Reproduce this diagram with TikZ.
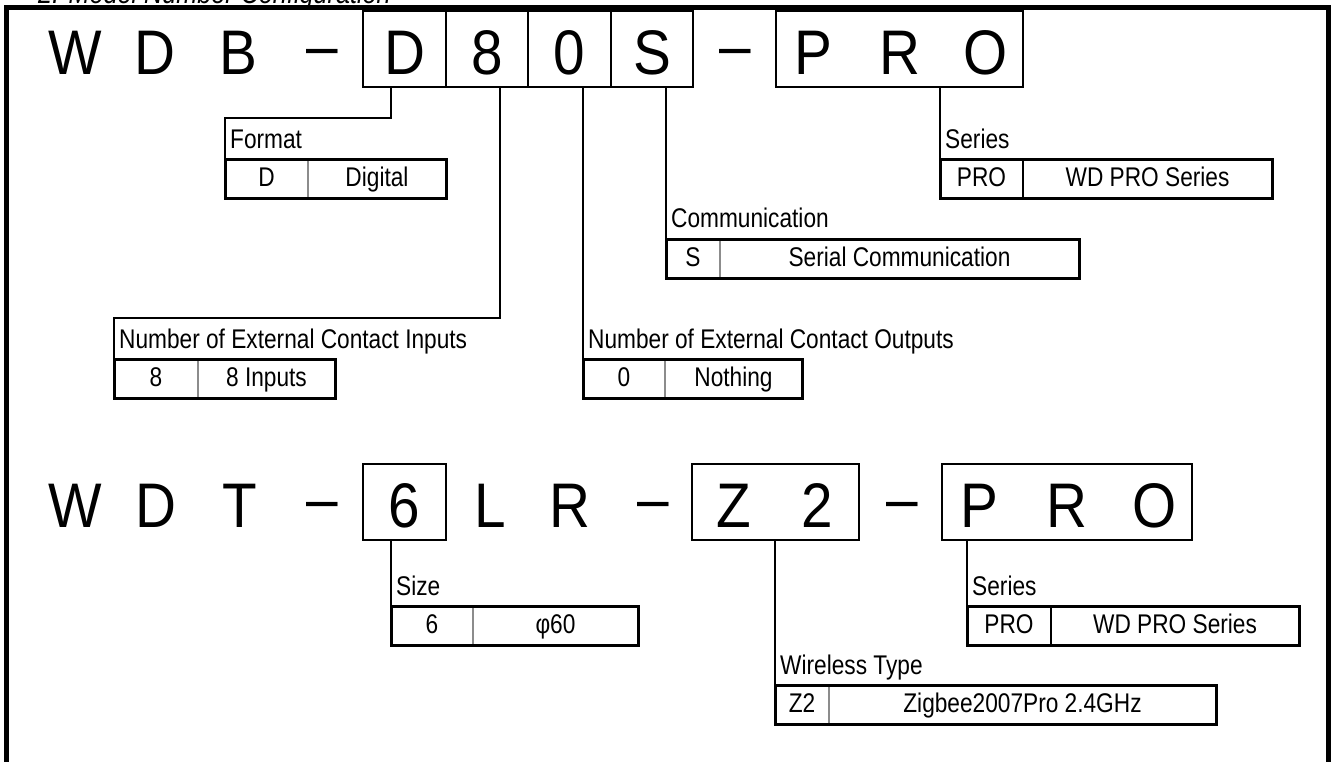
\documentclass[tikz,border=0pt]{standalone}
\usepackage{fontspec}
\setmainfont{Liberation Sans}
\newfontfamily\modelfont[FakeStretch=0.9]{Liberation Sans}
\newfontfamily\tagfont[FakeStretch=0.84]{Liberation Sans}
\usetikzlibrary{positioning}

\begin{document}
\begin{tikzpicture}[
		x=1pt, y=-1pt,
		glyph/.style={font=\modelfont\fontsize{63}{63}\selectfont, inner sep=0pt, outer sep=0pt, text height=64pt, text depth=12pt},
		digitbox/.style={glyph, draw, line width=2pt, minimum width=82.5pt},
		outerframe/.style={line width=5pt},
		wire/.style={line width=2.5pt},
		heading/.style={font=\tagfont\fontsize{27}{27}\selectfont, inner sep=0pt, anchor=base west},
		cell/.style={font=\tagfont\fontsize{27}{27}\selectfont, inner sep=0pt, outer sep=0pt, minimum height=39pt, text height=19pt, text depth=4pt},
		keycell/.style={cell, anchor=north west},
		tabline/.style={line width=3pt},
		divline/.style={line width=2pt, black!45},
	]
		\useasboundingbox (0,0) rectangle (1333,762);
		\node[heading, font=\tagfont\itshape\fontsize{30}{30}\selectfont] (title) at (38,4) {2. Model Number Configuration};
		\draw[outerframe] (6.5,770) -- (6.5,7.5) -- (1328.5,7.5) -- (1328.5,770);
		
		\node[glyph] (w1) at (75,49) {W};
		\node[glyph] (d1) at (155,49) {D};
		\node[glyph] (b1) at (238.5,49) {B};
		\node[glyph] (dasha) at (322.5,49) {\raisebox{7pt}{–}};
		\node[digitbox] (dbox) at (404.5,49) {D};
		\node[digitbox, right=0pt of dbox] (ebox) {8};
		\node[digitbox, right=0pt of ebox] (zbox) {0};
		\node[digitbox, right=0pt of zbox] (sbox) {S};
		\node[glyph] (dashb) at (735.5,49) {\raisebox{7pt}{–}};
		\node[digitbox, minimum width=247pt] (probox) at (899.5,49) {\makebox[0pt]{P}\hspace{86.5pt}\makebox[0pt]{R}\hspace{86.5pt}\makebox[0pt]{O}};
		
		\node[glyph] (w2) at (75,501.5) {W};
		\node[glyph] (d2) at (156,501.5) {D};
		\node[glyph] (t2) at (239.5,501.5) {T};
		\node[glyph] (dashc) at (322.5,501.5) {\raisebox{7pt}{–}};
		\node[digitbox] (sixbox) at (404.5,501.5) {6};
		\node[glyph] (l2) at (490,501.5) {L};
		\node[glyph] (r2) at (570,501.5) {R};
		\node[glyph] (dashd) at (653,501.5) {\raisebox{7pt}{–}};
		\node[digitbox, minimum width=167pt] (zzbox) at (775.5,501.5) {\makebox[0pt]{Z}\hspace{83pt}\makebox[0pt]{2}};
		\node[glyph] (dashe) at (902,501.5) {\raisebox{7pt}{–}};
		\node[digitbox, minimum width=250pt] (pro2box) at (1067,501.5) {\makebox[0pt]{P}\hspace{87.5pt}\makebox[0pt]{R}\hspace{87.5pt}\makebox[0pt]{O}};
		
		\node[keycell, minimum width=83pt] (fmtkey) at (225,160) {D};
		\node[cell, minimum width=138pt, right=0pt of fmtkey] (fmtval) {Digital};
		\node[heading] (fmtlbl) at ([xshift=5pt,yshift=11pt]fmtkey.north west) {Format};
		\draw[divline] (fmtkey.north east) -- (fmtkey.south east);
		\draw[tabline] (fmtkey.north west) rectangle (fmtval.south east);
		
		\node[keycell, minimum width=84pt] (inpkey) at (114,359) {8};
		\node[cell, minimum width=137pt, right=0pt of inpkey] (inpval) {8 Inputs};
		\node[heading] (inplbl) at ([xshift=5pt,yshift=11pt]inpkey.north west) {Number of External Contact Inputs};
		\draw[divline] (inpkey.north east) -- (inpkey.south east);
		\draw[tabline] (inpkey.north west) rectangle (inpval.south east);
		
		\node[keycell, minimum width=82pt] (outkey) at (583,359) {0};
		\node[cell, minimum width=137pt, right=0pt of outkey] (outval) {Nothing};
		\node[heading] (outlbl) at ([xshift=5pt,yshift=11pt]outkey.north west) {Number of External Contact Outputs};
		\draw[divline] (outkey.north east) -- (outkey.south east);
		\draw[tabline] (outkey.north west) rectangle (outval.south east);
		
		\node[keycell, minimum width=54pt] (comkey) at (666,239) {S};
		\node[cell, minimum width=359pt, right=0pt of comkey] (comval) {Serial Communication};
		\node[heading] (comlbl) at ([xshift=5pt,yshift=11pt]comkey.north west) {Communication};
		\draw[divline] (comkey.north east) -- (comkey.south east);
		\draw[tabline] (comkey.north west) rectangle (comval.south east);
		
		\node[keycell, minimum width=83pt] (serkey) at (940,160) {PRO};
		\node[cell, minimum width=249pt, right=0pt of serkey] (serval) {WD PRO Series};
		\node[heading] (serlbl) at ([xshift=5pt,yshift=11pt]serkey.north west) {Series};
		\draw[tabline] (serkey.north west) rectangle (serval.south east);
		\draw[tabline, line width=2pt] (serkey.north east) -- (serkey.south east);
		
		\node[keycell, minimum width=82pt] (sizekey) at (391,606) {6};
		\node[cell, minimum width=165pt, right=0pt of sizekey] (sizeval) {φ60};
		\node[heading] (sizelbl) at ([xshift=5pt,yshift=11pt]sizekey.north west) {Size};
		\draw[divline] (sizekey.north east) -- (sizekey.south east);
		\draw[tabline] (sizekey.north west) rectangle (sizeval.south east);
		
		\node[keycell, minimum width=54pt] (wlskey) at (775,685) {Z2};
		\node[cell, minimum width=387pt, right=0pt of wlskey] (wlsval) {Zigbee2007Pro 2.4GHz};
		\node[heading] (wlslbl) at ([xshift=5pt,yshift=11pt]wlskey.north west) {Wireless Type};
		\draw[divline] (wlskey.north east) -- (wlskey.south east);
		\draw[tabline] (wlskey.north west) rectangle (wlsval.south east);
		
		\node[keycell, minimum width=84pt] (ser2key) at (967,606) {PRO};
		\node[cell, minimum width=248pt, right=0pt of ser2key] (ser2val) {WD PRO Series};
		\node[heading] (ser2lbl) at ([xshift=5pt,yshift=11pt]ser2key.north west) {Series};
		\draw[tabline] (ser2key.north west) rectangle (ser2val.south east);
		\draw[tabline, line width=2pt] (ser2key.north east) -- (ser2key.south east);
		
		\draw[wire] ([xshift=-13.5pt]dbox.south) -- ++(0,31) -| (fmtkey.south west);
		\draw[wire] ([xshift=13pt]ebox.south) -- ++(0,231) -| (inpkey.south west);
		\draw[wire] (zbox.south -| outkey.south west) -- (outkey.south west);
		\draw[wire] (sbox.south -| comkey.south west) -- (comkey.south west);
		\draw[wire] (probox.south -| serkey.south west) -- (serkey.south west);
		\draw[wire] (sixbox.south -| sizekey.south west) -- (sizekey.south west);
		\draw[wire] (zzbox.south -| wlskey.south west) -- (wlskey.south west);
		\draw[wire] (pro2box.south -| ser2key.south west) -- (ser2key.south west);
	\end{tikzpicture}
\end{document}
